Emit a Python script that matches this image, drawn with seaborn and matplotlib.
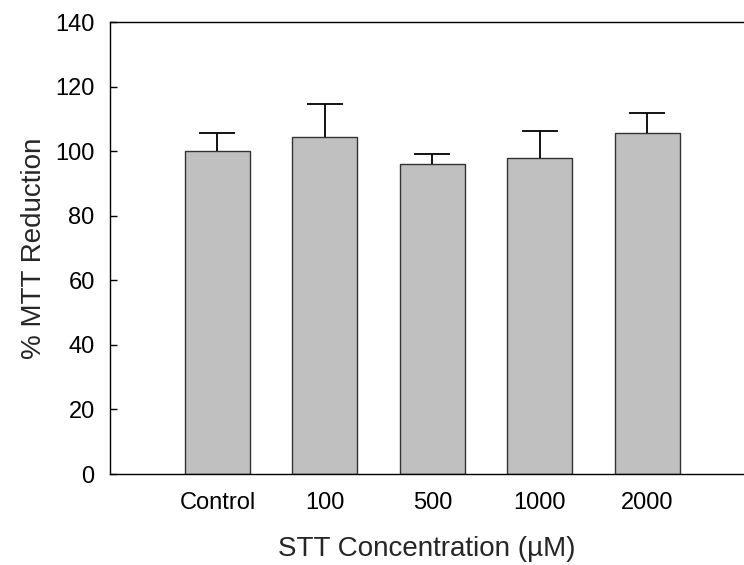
import matplotlib
matplotlib.use("Agg")
import matplotlib.pyplot as plt
import seaborn as sns
import pandas as pd

# MTT reduction by STT concentration (mean and upper error)
categories = ["Control", "100", "500", "1000", "2000"]
means = [100.0, 104.4, 96.0, 97.9, 105.6]
errors = [5.6, 10.2, 3.1, 8.3, 6.2]

sns.set_style("white")
plt.rcParams["font.family"] = ["Liberation Sans", "DejaVu Sans"]

df = pd.DataFrame({"conc": categories, "mtt": means})

fig = plt.figure(figsize=(7.44, 5.65), dpi=100)
ax = fig.add_axes([0.1478, 0.161, 0.8522, 0.8])

sns.barplot(data=df, x="conc", y="mtt", color="#c0c0c0", saturation=1,
            edgecolor="#333333", linewidth=1.0, width=0.605, ax=ax, zorder=2)

# upper-only error bars: hide the lower cap
_, caps, _ = ax.errorbar(range(len(categories)), means,
                         yerr=[[0] * len(errors), errors],
                         fmt="none", ecolor="black", elinewidth=1.3,
                         capsize=13, capthick=1.3, zorder=3)
caps[0].set_visible(False)

ax.set_xlim(-1.0, 4.9)
ax.set_ylim(0, 140)
ax.set_yticks(range(0, 141, 20))

for side in ["left", "bottom", "top"]:
    ax.spines[side].set_visible(True)
    ax.spines[side].set_color("black")
    ax.spines[side].set_linewidth(1.0)
ax.spines["right"].set_visible(False)

ax.tick_params(axis="y", direction="in", length=5, width=1, pad=11,
               labelsize=17, left=True, colors="black")
ax.tick_params(axis="x", length=0, pad=13, labelsize=17, colors="black")

ax.set_xlabel("STT Concentration (\u00b5M)", fontsize=20)
ax.set_ylabel("% MTT Reduction", fontsize=20)
ax.xaxis.set_label_coords(0.5, -0.138)
ax.yaxis.set_label_coords(-0.1, 0.5)

fig.savefig("out.png", dpi=100)
